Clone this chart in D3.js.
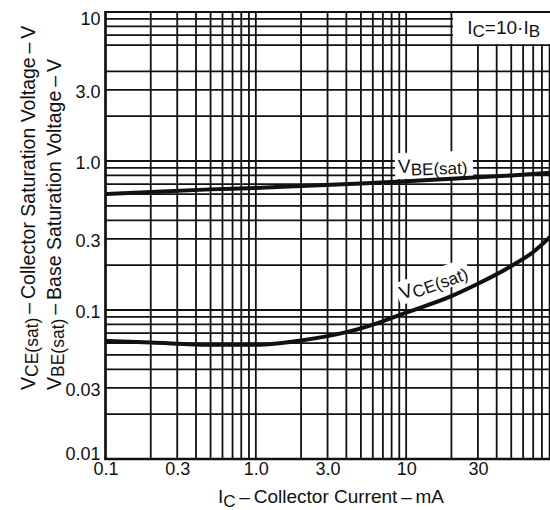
<!DOCTYPE html>
<html><head><meta charset="utf-8">
<script src="https://cdn.jsdelivr.net/npm/d3@7"></script>
<style>body{margin:0;background:#fff} svg{display:block}</style>
</head><body>
<svg id="c" width="550" height="510"></svg>
<script>
// ---- data ----
const xTickValues = [0.1, 0.3, 1, 3, 10, 30];
const xTickLabels = ["0.1", "0.3", "1.0", "3.0", "10", "30"];
const yTickValues = [0.01, 0.03, 0.1, 0.3, 1, 3, 10];
const yTickLabels = ["0.01", "0.03", "0.1", "0.3", "1.0", "3.0", "10"];

const vbeCurrent = [0.1, 0.2, 0.5, 1, 2, 5, 10, 20, 50, 100];
const vbeSat     = [0.60, 0.62, 0.645, 0.66, 0.68, 0.705, 0.73, 0.76, 0.80, 0.84];

const vceCurrent = [0.1, 0.2, 0.5, 1, 2, 4, 7, 10, 20, 30, 50, 70, 100];
const vceSat     = [0.062, 0.0605, 0.0585, 0.0585, 0.0625, 0.071, 0.084, 0.096, 0.124, 0.150, 0.197, 0.245, 0.34];

const FONT = "'Liberation Sans', Arial, Helvetica, sans-serif";
const INK = "#111";

const svg = d3.select("#c");
const x = d3.scaleLog().domain([0.1, 100]).range([105.5, 556.5]);
const y = d3.scaleLog().domain([0.01, 10]).range([459, 12]);

// ---- grid ----
const grid = svg.append("g").attr("stroke", INK).attr("stroke-width", 1.8);
grid.selectAll("line.v").data(x.ticks()).join("line")
  .attr("class", "v")
  .attr("x1", d => x(d)).attr("x2", d => x(d))
  .attr("y1", y(10)).attr("y2", y(0.01));
grid.selectAll("line.h").data(y.ticks().filter(d => Math.abs(d - 5) > 1e-9)).join("line")
  .attr("class", "h")
  .attr("y1", d => y(d)).attr("y2", d => y(d))
  .attr("x1", x(0.1)).attr("x2", x(100));

// ---- white label boxes ----
svg.append("rect")
  .attr("x", x(20) + 1.5).attr("y", y(10) + 1)
  .attr("width", x(100) - x(20)).attr("height", y(6) - y(10) - 2)
  .attr("fill", "#fff");

const vbeLab = svg.append("g")
  .attr("transform", `translate(${x(8.85)},${y(0.83)}) rotate(-2)`);
vbeLab.append("rect").attr("x", -3).attr("y", -20).attr("width", 78).attr("height", 26).attr("fill", "#fff");
const vbeT = vbeLab.append("text").attr("font-family", FONT).attr("font-size", 19).attr("fill", INK);
vbeT.append("tspan").text("V");
vbeT.append("tspan").attr("dy", 3).attr("font-size", 17).text("BE(sat)");

const vceLab = svg.append("g")
  .attr("transform", `translate(${x(9.4)},${y(0.117)}) rotate(-20)`);
vceLab.append("rect").attr("x", -3).attr("y", -18).attr("width", 76).attr("height", 23).attr("fill", "#fff");
const vceT = vceLab.append("text").attr("font-family", FONT).attr("font-size", 19).attr("fill", INK);
vceT.append("tspan").text("V");
vceT.append("tspan").attr("dy", 3).attr("font-size", 17).text("CE(sat)");

// ---- curves ----
const line = d3.line().curve(d3.curveMonotoneX);
svg.append("path")
  .attr("d", line(vbeCurrent.map((c, i) => [x(c), y(vbeSat[i])])))
  .attr("fill", "none").attr("stroke", INK).attr("stroke-width", 4);
svg.append("path")
  .attr("d", line(vceCurrent.map((c, i) => [x(c), y(vceSat[i])])))
  .attr("fill", "none").attr("stroke", INK).attr("stroke-width", 4);

// ---- frame ----
const frame = svg.append("g").attr("stroke", INK);
frame.append("line").attr("x1", x(0.1)).attr("x2", x(0.1)).attr("y1", y(10) - 1).attr("y2", y(0.01) + 1).attr("stroke-width", 2.5);
frame.append("line").attr("x1", x(0.1) - 1).attr("x2", x(100)).attr("y1", y(0.01)).attr("y2", y(0.01)).attr("stroke-width", 2.5);
frame.append("line").attr("x1", x(0.1) - 1).attr("x2", x(100)).attr("y1", y(10)).attr("y2", y(10)).attr("stroke-width", 2.2);

// ---- IC = 10 IB label ----
const icT = svg.append("text").attr("x", x(25.5)).attr("y", 34)
  .attr("font-family", FONT).attr("font-size", 19).attr("fill", INK);
icT.append("tspan").text("I");
icT.append("tspan").attr("dy", 3).attr("font-size", 17).text("C");
icT.append("tspan").attr("dy", -3).text("=10\u00b7I");
icT.append("tspan").attr("dy", 3).attr("font-size", 17).text("B");

// ---- axes ----
const xAxis = d3.axisBottom(x).tickValues(xTickValues)
  .tickFormat((d, i) => xTickLabels[i]).tickSize(0).tickPadding(0);
const gx = svg.append("g").attr("transform", `translate(0,${y(0.01)})`).call(xAxis);
gx.select(".domain").remove();
gx.selectAll("text").attr("font-family", FONT).attr("font-size", 18).attr("fill", INK)
  .attr("dy", null).attr("y", 16);

const yAxis = d3.axisLeft(y).tickValues(yTickValues)
  .tickFormat((d, i) => yTickLabels[i]).tickSize(0).tickPadding(0);
const gy = svg.append("g").attr("transform", `translate(${x(0.1) - 5},0)`).call(yAxis);
gy.select(".domain").remove();
gy.selectAll("text").attr("font-family", FONT).attr("font-size", 18).attr("fill", INK)
  .attr("dy", d => d === 10 ? "0.72em" : d === 0.01 ? "0.05em" : "0.4em");

// ---- axis titles ----
const xt = svg.append("text").attr("x", 218).attr("y", 503)
  .attr("font-family", FONT).attr("font-size", 19).attr("fill", INK);
xt.append("tspan").text("I");
xt.append("tspan").attr("dy", 4).attr("font-size", 17).text("C");
xt.append("tspan").attr("dy", -4).text("\u2009\u2013\u2009Collector Current\u2009\u2013\u2009mA");

function yTitle(tx, sub, rest) {
  const t = svg.append("text").attr("transform", `translate(${tx},390) rotate(-90)`)
    .attr("font-family", FONT).attr("font-size", 19.5).attr("fill", INK);
  t.append("tspan").text("V");
  t.append("tspan").attr("dy", 3).attr("font-size", 17.5).text(sub);
  t.append("tspan").attr("dy", -3).text(rest);
}
yTitle(35, "CE(sat)", "\u2009\u2013\u2009Collector Saturation Voltage\u2009\u2013\u2009V");
yTitle(61, "BE(sat)", "\u2009\u2013\u2009Base Saturation Voltage\u2009\u2013\u2009V");
</script>
</body></html>
